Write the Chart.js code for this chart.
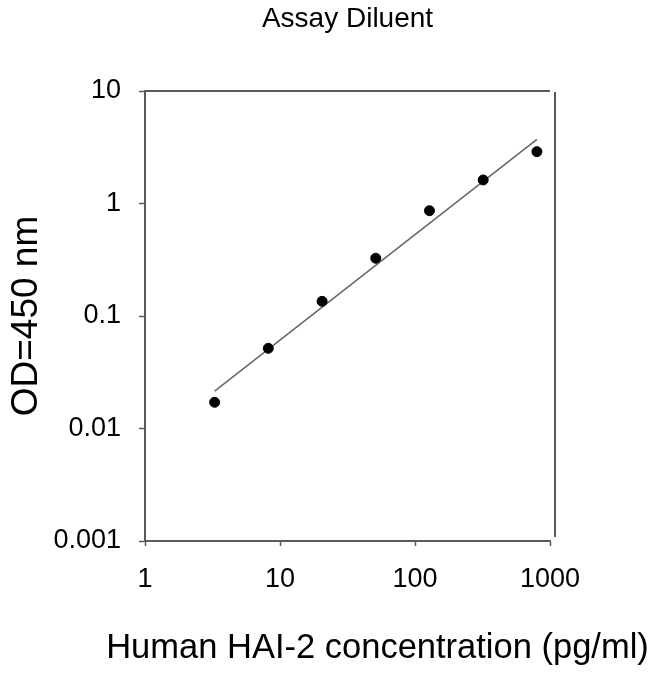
<!DOCTYPE html>
<html>
<head>
<meta charset="utf-8">
<script src="https://cdn.jsdelivr.net/npm/chart.js@4/dist/chart.umd.min.js"></script>
<style>
  html, body { margin: 0; padding: 0; background: #fff; }
  canvas { display: block; }
</style>
</head>
<body>
<canvas id="chart" width="650" height="674"></canvas>
<script>
    // data
    const concentrations = [3.28, 8.19, 20.5, 51.2, 128, 320, 800];
    const odValues = [0.0171, 0.0516, 0.135, 0.326, 0.863, 1.62, 2.89];
    const fitX = [3.28, 800];
    const fitY = [0.0215, 3.72];
    const xTicks = [1, 10, 100, 1000];
    const yTicks = [0.001, 0.01, 0.1, 1, 10];
    const xTitle = 'Human HAI-2 concentration (pg/ml)';

    const fontFamily = "'Liberation Sans', Arial, sans-serif";
    Chart.defaults.font.family = fontFamily;
    Chart.defaults.color = '#000000';

    // top and right frame lines of the plot box, plus the x axis title
    // (the built-in axis title gets squeezed to the plot width)
    const framePlugin = {
        id: 'frame',
        afterDraw(chart) {
            const a = chart.chartArea, ctx = chart.ctx;
            ctx.save();
            ctx.strokeStyle = '#5a5a5a';
            ctx.lineWidth = 2;
            ctx.beginPath();
            ctx.moveTo(a.left, a.top);
            ctx.lineTo(a.right, a.top);
            ctx.moveTo(a.right + 5, a.top + 1);
            ctx.lineTo(a.right + 5, a.bottom - 4);
            ctx.stroke();

            ctx.fillStyle = '#000000';
            ctx.font = '34.5px ' + fontFamily;
            ctx.textAlign = 'center';
            ctx.textBaseline = 'middle';
            ctx.fillText(xTitle, (a.left + a.right) / 2 + 30, a.bottom + 107);
            ctx.restore();
        }
    };

    const ctx = document.getElementById('chart');
    new Chart(ctx, {
        type: 'scatter',
        data: {
            datasets: [{
                label: 'OD',
                data: concentrations.map((x, i) => ({ x: x, y: odValues[i] })),
                backgroundColor: '#000000',
                borderColor: '#000000',
                pointRadius: 5,
                borderWidth: 1,
                order: 1
            }, {
                type: 'line',
                label: 'Fit',
                data: fitX.map((x, i) => ({ x: x, y: fitY[i] })),
                borderColor: '#666666',
                borderWidth: 1.5,
                pointRadius: 0,
                fill: false,
                order: 2
            }]
        },
        options: {
            responsive: false,
            animation: false,
            layout: { padding: { right: 100 } },
            plugins: {
                legend: { display: false },
                tooltip: { enabled: false },
                title: {
                    display: true,
                    text: 'Assay Diluent',
                    fullSize: false,
                    color: '#000000',
                    font: { size: 28, weight: 'normal' },
                    padding: { top: 2, bottom: 55.4 }
                }
            },
            scales: {
                x: {
                    type: 'logarithmic',
                    position: 'bottom',
                    min: 1, max: 1000,
                    afterBuildTicks: s => { s.ticks = xTicks.map(v => ({ value: v })); },
                    afterFit: s => { s.height = 133; },
                    ticks: { callback: v => String(v), font: { size: 27 }, color: '#000000', padding: 17, maxRotation: 0, autoSkip: false },
                    grid: { display: true, drawOnChartArea: false, drawTicks: true, tickLength: 5, tickColor: '#5a5a5a', tickWidth: 1.5 },
                    border: { display: true, color: '#5a5a5a', width: 2 },
                    title: { display: false }
                },
                y: {
                    type: 'logarithmic',
                    position: 'left',
                    min: 0.001, max: 10,
                    afterBuildTicks: s => { s.ticks = yTicks.map(v => ({ value: v })); },
                    afterFit: s => { s.width = 145; },
                    ticks: { callback: v => String(v), font: { size: 27 }, color: '#000000', padding: 18, autoSkip: false },
                    grid: { display: true, drawOnChartArea: false, drawTicks: true, tickLength: 6, tickColor: '#5a5a5a', tickWidth: 1.5 },
                    border: { display: true, color: '#5a5a5a', width: 2 },
                    title: { display: true, text: 'OD=450 nm', color: '#000000', font: { size: 37 }, padding: { top: 4.5, bottom: 0 } }
                }
            }
        },
        plugins: [framePlugin]
    });
</script>
</body>
</html>
